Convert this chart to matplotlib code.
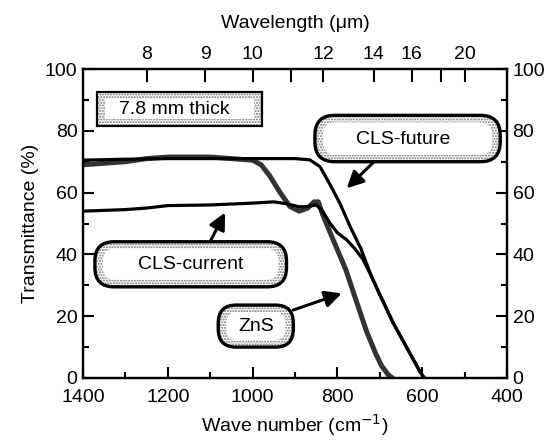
import numpy as np
import matplotlib.pyplot as plt
from matplotlib.patches import FancyBboxPatch
from matplotlib.ticker import MultipleLocator
from matplotlib.transforms import IdentityTransform

plt.rcParams['font.family'] = ['Liberation Sans', 'DejaVu Sans']

# transmittance (%) vs wave number (cm-1), 7.8 mm thick windows
zns_wn = [1400, 1350, 1300, 1250, 1200, 1100, 1050, 1000, 980, 960, 935, 912, 890, 870,
          855, 845, 835, 817, 800, 780, 763, 731, 710, 696, 680, 670]
zns_t = [69, 69.5, 70, 71, 71.5, 71.5, 71, 70.5, 69, 65.5, 60, 55.5, 54, 55,
         57, 57, 53, 47, 41.5, 35, 28, 15, 8, 4, 1, 0]

cur_wn = [1400, 1300, 1250, 1200, 1100, 1000, 950, 920, 890, 870, 850, 835, 817, 800,
          778, 760, 740, 720, 700, 668, 629, 605, 595]
cur_t = [54, 54.5, 55, 55.8, 56, 56.6, 57, 56.4, 55.4, 55.5, 56, 54, 50, 47,
         44.7, 42, 38.5, 33, 27, 17.7, 8, 2, 0]

fut_wn = [1400, 1300, 1200, 1000, 900, 865, 841, 817, 794, 770, 745, 720, 700, 668,
          629, 605, 595]
fut_t = [70.5, 70.8, 71, 71, 71, 70.6, 68.4, 62.5, 56.5, 49, 42, 33, 27, 17.7,
         8, 2, 0]

# wavelength ticks on top (um)
wl_labeled = [8, 9, 10, 12, 14, 16, 20]
wl_unlabeled = [11, 18]

fig = plt.figure(figsize=(5.56, 4.41), dpi=100)
ax = fig.add_axes([83/556, 63/441, 424/556, 309/441])
ax.set_xlim(1400, 400)
ax.set_ylim(0, 100)

ax.plot(zns_wn, zns_t, color='0.2', lw=3.6, solid_capstyle='round', zorder=2)
ax.plot(cur_wn, cur_t, color='k', lw=2.3, zorder=3)
ax.plot(fut_wn, fut_t, color='k', lw=2.3, zorder=3)

ax.xaxis.set_major_locator(MultipleLocator(200))
ax.xaxis.set_minor_locator(MultipleLocator(100))
ax.yaxis.set_major_locator(MultipleLocator(20))
ax.yaxis.set_minor_locator(MultipleLocator(10))
ax.tick_params(which='both', direction='in', top=False, right=True,
               labelright=True, width=1.5, labelsize=14, pad=4)
ax.tick_params(axis='x', pad=8)
ax.tick_params(which='major', length=8)
ax.tick_params(which='minor', length=4)
for s in ax.spines.values():
    s.set_linewidth(1.6)

top = ax.twiny()
top.set_xlim(ax.get_xlim())
top.set_xticks([10000/w for w in wl_labeled])
top.set_xticklabels([str(w) for w in wl_labeled])
top.set_xticks([10000/w for w in wl_unlabeled], minor=True)
top.tick_params(which='both', direction='in', length=9, width=1.5, labelsize=14, pad=4)
for s in top.spines.values():
    s.set_linewidth(1.6)

ax.set_xlabel('Wave number (cm$^{-1}$)', fontsize=14, labelpad=4)
ax.set_ylabel('Transmittance (%)', fontsize=14, labelpad=4)
top.set_xlabel('Wavelength (\u03bcm)', fontsize=14, labelpad=13)


def label_box(x0, x1, y0, y1, text, tx, ty, rounded=True):
    (ax0, ay0) = ax.transData.transform((x0, y0))
    (ax1, ay1) = ax.transData.transform((x1, y1))
    l, r = min(ax0, ax1), max(ax0, ax1)
    b, t = min(ay0, ay1), max(ay0, ay1)
    w, h = r - l, t - b
    if rounded:
        rad = h / 2 * 0.85
        style = 'round,pad=0,rounding_size=%g' % rad
        inner = 'round,pad=0,rounding_size=%g' % max(rad - 7, 1)
    else:
        style = 'square,pad=0'
        inner = 'square,pad=0'
    dots = FancyBboxPatch((l, b), w, h, boxstyle=style, fc='white', ec='0.45',
                          lw=0, hatch='......', transform=IdentityTransform(), zorder=4)
    core = FancyBboxPatch((l + 8, b + 7), w - 16, h - 14, boxstyle=inner, fc='white',
                          ec='none', transform=IdentityTransform(), zorder=4)
    edge = FancyBboxPatch((l, b), w, h, boxstyle=style, fc='none', ec='k',
                          lw=2.4 if rounded else 1.6, transform=IdentityTransform(), zorder=5)
    for p in (dots, core, edge):
        p.set_clip_on(False)
        ax.add_artist(p)
    ax.text(tx, ty, text, ha='center', va='center', fontsize=14, zorder=6)


label_box(1368, 979, 92.7, 81.4, '7.8 mm thick', 1185, 87, rounded=False)
label_box(853, 416, 85, 70, 'CLS-future', 646, 77.3)
label_box(1372, 920, 44.1, 29.5, 'CLS-current', 1146, 36.8)
label_box(1081, 904, 23.6, 10, 'ZnS', 992, 16.8)

arrow = dict(arrowstyle='-|>,head_length=1.0,head_width=0.5', lw=2.2, color='k',
             shrinkA=0, shrinkB=0)
ax.annotate('', xy=(778, 61.4), xytext=(715, 69.8), arrowprops=arrow, zorder=6)
ax.annotate('', xy=(1065, 53.5), xytext=(1100, 44.2), arrowprops=arrow, zorder=6)
ax.annotate('', xy=(790, 27.4), xytext=(904, 22), arrowprops=arrow, zorder=6)

fig.savefig('out.png', dpi=100)
